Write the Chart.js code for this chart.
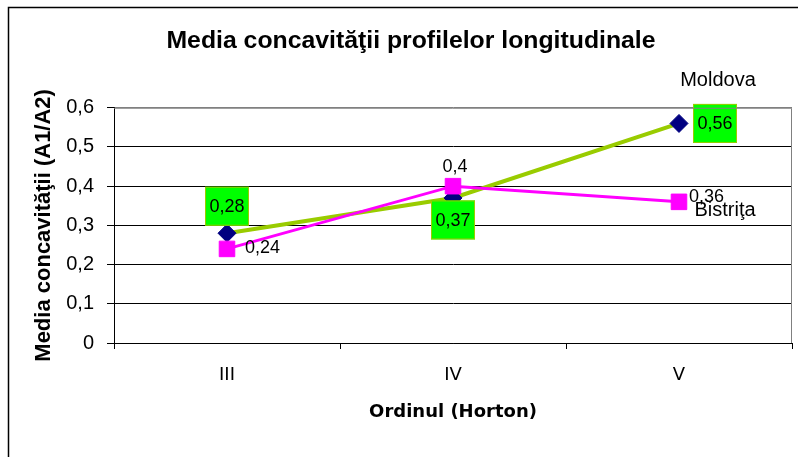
<!DOCTYPE html>
<html>
<head>
<meta charset="utf-8">
<script src="https://cdn.jsdelivr.net/npm/chart.js@4.4.1/dist/chart.umd.min.js"></script>
<style>
  html, body { margin: 0; padding: 0; background: #fff; }
  #wrap { width: 798px; height: 457px; position: relative; }
</style>
</head>
<body>
<div id="wrap"><canvas id="myChart"></canvas></div>
<script>
// data
const categories = ["III", "IV", "V"];
const moldova = [0.28, 0.37, 0.56];
const bistrita = [0.24, 0.4, 0.36];
const seriesNames = ["Moldova", "Bistriţa"];
const yTicks = [0, 0.1, 0.2, 0.3, 0.4, 0.5, 0.6];

const FONT = "'Liberation Sans', Arial, sans-serif";
const FONT2 = "'DejaVu Sans', Verdana, sans-serif";

function fmt(v) {
  if (v === 0) return "0";
  return (Math.round(v * 100) / 100).toString().replace(".", ",");
}

// where the value labels sit, relative to each point
const moldovaLabelPos = [[0, -27], [0, 22], [36, 0]];
const bistritaLabelPos = [[18, -1], [2, -19], [10, -5]];

// outer frame + gray plot border
const framePlugin = {
  id: "frame",
  beforeDraw(chart) {
    const c = chart.ctx;
    c.save();
    c.fillStyle = "#fff";
    c.fillRect(0, 0, chart.width, chart.height);
    c.strokeStyle = "#000";
    c.lineWidth = 1.5;
    c.beginPath();
    c.moveTo(8.5, chart.height);
    c.lineTo(8.5, 7.5);
    c.lineTo(chart.width, 7.5);
    c.stroke();
    c.restore();
  },
  afterDraw(chart) {
    const a = chart.chartArea;
    const c = chart.ctx;
    c.save();
    c.strokeStyle = "#808080";
    c.lineWidth = 1;
    c.beginPath();
    c.moveTo(a.left, a.top + 0.5);
    c.lineTo(a.right - 0.5, a.top + 0.5);
    c.lineTo(a.right - 0.5, a.bottom);
    c.stroke();
    c.restore();
  }
};

// value labels and series names
const labelsPlugin = {
  id: "valueLabels",
  afterDatasetsDraw(chart) {
    const c = chart.ctx;
    c.save();
    c.font = "18px " + FONT;
    c.textBaseline = "middle";

    // Moldova: green boxes
    const m0 = chart.getDatasetMeta(0);
    m0.data.forEach((pt, i) => {
      const x = pt.x + moldovaLabelPos[i][0];
      const y = pt.y + moldovaLabelPos[i][1];
      c.fillStyle = "#00FF00";
      c.fillRect(x - 22, y - 19.5, 44, 39);
      c.strokeStyle = "#99CC00";
      c.lineWidth = 1;
      c.strokeRect(x - 22 + 0.5, y - 19.5 + 0.5, 43, 38);
      c.fillStyle = "#000";
      c.textAlign = "center";
      c.fillText(fmt(moldova[i]), x, y + 1);
    });

    // Bistrita: plain text
    const m1 = chart.getDatasetMeta(1);
    m1.data.forEach((pt, i) => {
      const x = pt.x + bistritaLabelPos[i][0];
      const y = pt.y + bistritaLabelPos[i][1];
      c.fillStyle = "#000";
      c.textAlign = i === 1 ? "center" : "left";
      c.fillText(fmt(bistrita[i]), x, y);
    });

    // series names near the last point
    c.font = "20px " + FONT;
    c.textAlign = "center";
    const lastM = m0.data[m0.data.length - 1];
    const lastB = m1.data[m1.data.length - 1];
    c.fillText(seriesNames[0], lastM.x + 39, lastM.y - 43);
    c.fillText(seriesNames[1], lastB.x + 46, lastB.y + 9);
    c.restore();
  }
};

const ctx = document.getElementById("myChart");

new Chart(ctx, {
  type: "line",
  data: {
    labels: categories,
    datasets: [
      {
        label: seriesNames[0],
        data: moldova,
        borderColor: "#99CC00",
        borderWidth: 4,
        pointStyle: "rectRot",
        pointRadius: 9,
        pointBackgroundColor: "#000080",
        pointBorderColor: "#000080",
        pointBorderWidth: 1,
        tension: 0,
        order: 2
      },
      {
        label: seriesNames[1],
        data: bistrita,
        borderColor: "#FF00FF",
        borderWidth: 3,
        pointStyle: "rect",
        pointRadius: 11,
        pointBackgroundColor: "#FF00FF",
        pointBorderColor: "#FF00FF",
        pointBorderWidth: 1,
        tension: 0,
        order: 1
      }
    ]
  },
  plugins: [framePlugin, labelsPlugin],
  options: {
    responsive: true,
    maintainAspectRatio: false,
    animation: false,
    events: [],
    layout: { autoPadding: false, padding: { left: 30, right: 6, top: 0, bottom: 0 } },
    plugins: {
      legend: { display: false },
      tooltip: { enabled: false },
      title: {
        display: true,
        text: "Media concavităţii profilelor longitudinale",
        color: "#000",
        font: { family: FONT, size: 24.8, weight: "bold" },
        padding: { top: 26, bottom: 52 }
      }
    },
    scales: {
      x: {
        offset: true,
        afterFit: (s) => {
          s.height = 114;
          s.paddingLeft = 0;
          s.paddingRight = 0;
        },
        grid: {
          offset: true,
          drawOnChartArea: false,
          drawTicks: true,
          tickLength: 6,
          color: "#000"
        },
        border: { color: "#000", width: 1 },
        ticks: {
          color: "#000",
          padding: 16,
          font: { family: FONT2, size: 18 }
        },
        title: {
          display: true,
          text: "Ordinul (Horton)",
          color: "#000",
          font: { family: FONT2, size: 18, weight: "bold" },
          padding: { top: 0, bottom: 34 }
        }
      },
      y: {
        min: 0,
        max: 0.6,
        afterFit: (s) => { s.width = 84; },
        afterBuildTicks: (s) => { s.ticks = yTicks.map((v) => ({ value: v })); },
        grid: {
          color: (c) => (c.tick && c.tick.value === 0.6 ? "#808080" : "#000"),
          tickColor: "#000",
          tickLength: 7,
          lineWidth: 1
        },
        border: { color: "#000", width: 1 },
        ticks: {
          color: "#000",
          padding: 13,
          font: { family: FONT, size: 20 },
          callback: (v) => fmt(v)
        },
        title: {
          display: true,
          text: "Media concavităţii (A1/A2)",
          color: "#000",
          font: { family: FONT, size: 22, weight: "bold" },
          padding: { top: 1, bottom: 0 }
        }
      }
    }
  }
});
</script>
</body>
</html>
